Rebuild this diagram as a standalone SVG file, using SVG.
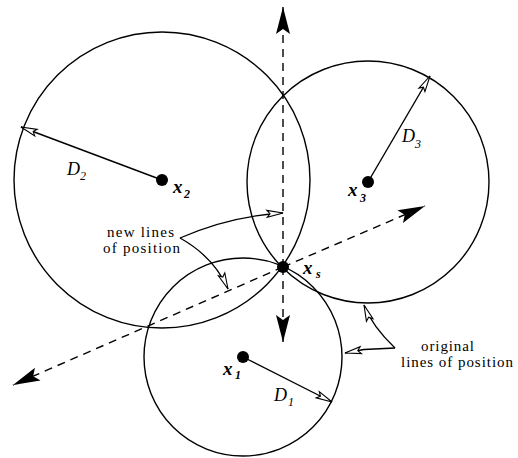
<svg xmlns="http://www.w3.org/2000/svg" width="518" height="458" viewBox="0 0 518 458" font-family="Liberation Serif, serif">
<style>
.c{fill:none;stroke:#000;stroke-width:1.4}
.d{fill:none;stroke:#000;stroke-width:1.4;stroke-dasharray:8 6}
.r{fill:none;stroke:#000;stroke-width:1.4}
.co{fill:none;stroke:#000;stroke-width:1.3}
.dot{fill:#000}
.t{font-size:15px}
.D{font-size:18px;font-style:italic}
.Ds{font-size:12px;font-style:italic}
.X{font-size:19px;font-style:italic;font-weight:bold}
.Xs{font-size:12px;font-style:italic;font-weight:bold}
</style>
<defs>
<marker id="fa" markerUnits="userSpaceOnUse" viewBox="-28 -8 30 16" refX="0" refY="0" markerWidth="30" markerHeight="16" orient="auto">
<path d="M0,0 L-27,-7 L-22,0 L-27,7 Z" fill="#000"/>
</marker>
<marker id="oa" markerUnits="userSpaceOnUse" viewBox="-18 -5 20 10" refX="0" refY="0" markerWidth="20" markerHeight="10" orient="auto">
<path d="M0,0 L-16,-3.5 L-13,0 L-16,3.5 Z" fill="#fff" stroke="#000" stroke-width="1.1" stroke-linejoin="miter"/>
</marker>
</defs>
<g id="circles">
<circle id="circle2" class="c" cx="162" cy="180" r="148"/>
<circle id="circle3" class="c" cx="368" cy="182" r="121"/>
<circle id="circle1" class="c" cx="243" cy="357" r="99"/>
</g>
<g id="connectors">
<line class="d" x1="283" y1="267" x2="283" y2="7" marker-end="url(#fa)"/>
<line class="d" x1="283" y1="267" x2="283" y2="342" marker-end="url(#fa)"/>
<line class="d" x1="283" y1="267" x2="425" y2="206" marker-end="url(#fa)"/>
<line class="d" x1="283" y1="267" x2="13" y2="385" marker-end="url(#fa)"/>
<line class="r" x1="162" y1="180" x2="21" y2="127" marker-end="url(#oa)"/>
<line class="r" x1="368" y1="182" x2="430" y2="76" marker-end="url(#oa)"/>
<line class="r" x1="243" y1="357" x2="332" y2="402" marker-end="url(#oa)"/>
<path class="co" d="M180,238 Q230,216 283,213" marker-end="url(#oa)"/>
<path class="co" d="M180,238 Q214,257 228,289" marker-end="url(#oa)"/>
<path class="co" d="M395,348 L364,349.5 L345,353" marker-end="url(#oa)"/>
<path class="co" d="M395,348 Q372,326 364,305" marker-end="url(#oa)"/>
</g>
<g id="node-x2">
<circle class="dot" cx="162" cy="180" r="6"/>
<text class="X" x="173" y="193">x</text><text class="Xs" x="184" y="198">2</text>
</g>
<g id="node-x3">
<circle class="dot" cx="368" cy="182" r="6"/>
<text class="X" x="348" y="196">x</text><text class="Xs" x="360" y="202">3</text>
</g>
<g id="node-x1">
<circle class="dot" cx="243" cy="357" r="6"/>
<text class="X" x="223" y="375">x</text><text class="Xs" x="235" y="379">1</text>
</g>
<g id="node-xs">
<circle class="dot" cx="283" cy="267" r="6"/>
<text class="X" x="303" y="274">x</text><text class="Xs" x="316" y="278">s</text>
</g>
<g id="labels">
<text class="D" x="67" y="175">D</text><text class="Ds" x="80" y="180">2</text>
<text class="D" x="402" y="142">D</text><text class="Ds" x="415" y="148">3</text>
<text class="D" x="274" y="401">D</text><text class="Ds" x="288" y="406">1</text>
<text class="t" x="107" y="237" textLength="67" lengthAdjust="spacing">new lines</text>
<text class="t" x="103" y="253" textLength="77" lengthAdjust="spacing">of position</text>
<text class="t" x="421" y="351" textLength="53" lengthAdjust="spacing">original</text>
<text class="t" x="401" y="367" textLength="112" lengthAdjust="spacing">lines of position</text>
</g>
</svg>
